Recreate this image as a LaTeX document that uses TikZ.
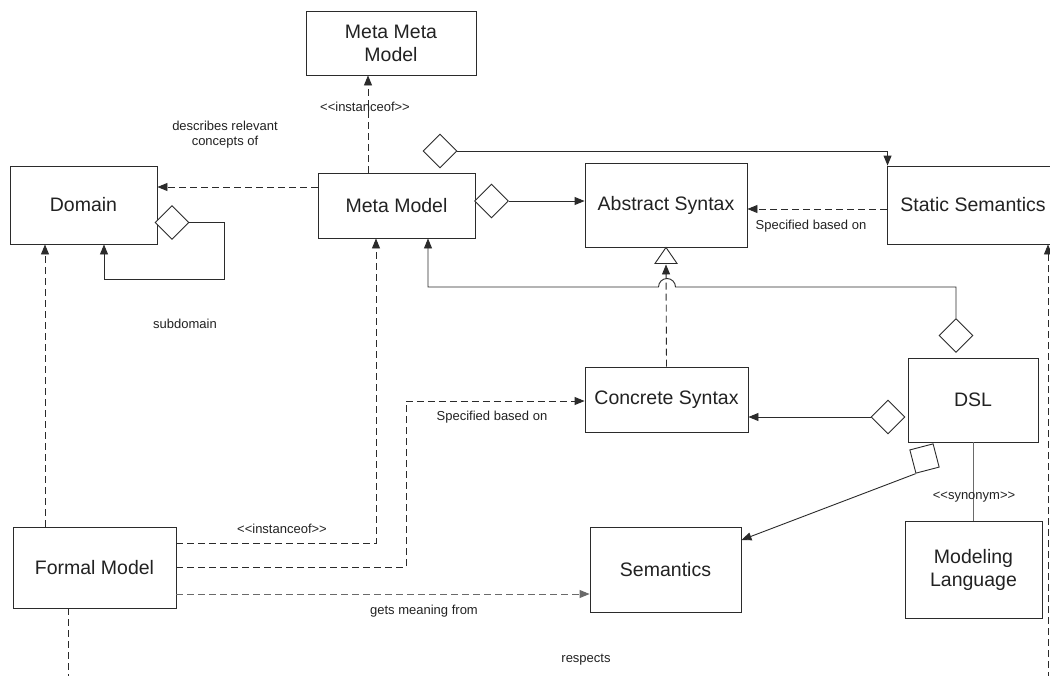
\documentclass[tikz,border=0pt]{standalone}
\usepackage{fontspec}
\setmainfont{Liberation Sans}
\usetikzlibrary{arrows.meta,shapes.geometric,calc}
\definecolor{linec}{HTML}{2B2B2B}
\definecolor{txt}{HTML}{222222}
\definecolor{greyline}{HTML}{6A6A6A}
% guillemet-free stereotype brackets
\def\stl{<\kern0pt<}
\def\str{>\kern0pt>}

\begin{document}
\begin{tikzpicture}[x=1pt,y=-1pt,
  box/.style={draw=linec, line width=0.9pt, inner sep=0pt, align=center,
    font=\fontsize{19.5}{23}\selectfont, text=txt},
  lbl/.style={font=\fontsize{13}{15}\selectfont, text=txt, align=center, inner sep=0pt},
  dia/.style={diamond, draw=linec, fill=white, line width=0.9pt,
    minimum width=34pt, minimum height=34pt, inner sep=0pt},
  conn/.style={draw=linec, line width=0.9pt},
  dsh/.style={conn, dash pattern=on 7pt off 4pt},
  arr/.style={-{Triangle[length=10pt,width=8pt]}},
]
\useasboundingbox (0,0) rectangle (1050,675);
\fill[white] (0,0) rectangle (1050,675);
\clip (0,0) rectangle (1050,675);

% classes
\node[box, minimum width=170pt, minimum height=64pt] (mmm) at (391,43) {Meta Meta\\Model};
\node[box, minimum width=147pt, minimum height=78pt] (dom) at (83.5,205) {Domain};
\node[box, minimum width=157pt, minimum height=65pt] (mm) at (396.5,205.5) {Meta Model};
\node[box, minimum width=162pt, minimum height=84pt] (as) at (666,205) {Abstract Syntax};
\node[box, minimum width=172pt, minimum height=78pt] (ss) at (973,205) {Static Semantics};
\node[box, minimum width=163pt, minimum height=65pt] (cs) at (666.5,399.5) {Concrete Syntax};
\node[box, minimum width=130pt, minimum height=84pt] (dsl) at (973,400) {DSL};
\node[box, minimum width=163pt, minimum height=81pt] (fm) at (94.5,567.5) {Formal Model};
\node[box, minimum width=151pt, minimum height=85pt] (sem) at (665.5,569.5) {Semantics};
\node[box, minimum width=137pt, minimum height=97pt] (ml) at (973.5,569.5) {Modeling\\Language};

% aggregation markers
\node[dia] (dd) at (172,222.5) {};
\node[dia] (td) at (440,151) {};
\node[dia] (md) at (491.5,201) {};
\node[dia] (dtop) at (956,335.5) {};
\node[dia] (dl) at (888,417) {};
\node[draw=linec, fill=white, line width=0.9pt, minimum size=24pt, inner sep=0pt,
  rotate=14.6] (sq) at (924.5,458.5) {};

% bend points
\coordinate (loopA) at (224,279);
\coordinate (loopB) at (104,279);
\coordinate (hop) at (667,287);
\coordinate (k1) at (376,543);
\coordinate (k2) at (406,401);
\coordinate (fmend) at (68,690);
\coordinate (ssend) at (1048,690);

% Meta Model relations
\draw[dsh,arr] ([xshift=-28.5pt]mm.north) -- ([xshift=-28.5pt]mm.north |- mmm.south);
\node[lbl] at (365,107) {\stl instanceof\str};
\draw[dsh,arr] ([yshift=18.5pt]mm.west) -- ([yshift=18.5pt]mm.west -| dom.east);
\node[lbl] at (225,135) {describes relevant\\concepts of};
\draw[conn,arr] (md.east) -- (md.east -| as.west);
\draw[conn,arr] (td.east) -| ([xshift=1pt]ss.north west);

% subdomain loop
\draw[conn,arr] (dd.east) -| (loopA) -- (loopB) -- (loopB |- dom.south);
\node[lbl] at (185,324) {subdomain};

% Static Semantics to Abstract Syntax
\draw[dsh,arr] ([yshift=-4pt]ss.west) -- ([yshift=-4pt]ss.west -| as.east);
\node[lbl] at (811,226) {Specified based on};

% DSL composition to Meta Model (hopping over the dashed line)
\draw[conn,arr] (dtop.north) |- ([xshift=8.5pt]hop)
  arc[start angle=0, end angle=180, radius=8.5pt]
  -| ([xshift=31.5pt]mm.south);

% Concrete Syntax specialises Abstract Syntax
\draw[dsh,arr] (cs.north) -- ([yshift=-17pt]as.south);
\draw[draw=linec, fill=white, line width=0.9pt]
  (as.south) -- ++(-11,16) -- ++(22,0) -- cycle;

% DSL parts
\draw[conn,arr] (dl.west) -- (dl.west -| cs.east);
\draw[conn,arr] (sq.south west) -- ([yshift=29.5pt]sem.east);
\draw[draw=greyline, line width=0.9pt] (dsl.south) -- (dsl.south |- ml.north);
\node[lbl] at (974,497) {\stl synonym\str};

% Formal Model relations
\draw[dsh,arr] ([xshift=-49.5pt]fm.north) -- ([xshift=-49.5pt]fm.north |- dom.south);
\draw[dsh,arr] (fm.east |- k1) -| (mm.south -| k1);
\node[lbl] at (282,529) {\stl instanceof\str};
\draw[dsh,arr] (fm.east) -| (k2) -- (cs.west |- k2);
\node[lbl] at (492,417) {Specified based on};
\draw[dsh,draw=greyline,arr] ([yshift=-26.5pt]fm.east) -- ([yshift=-26.5pt]fm.east -| sem.west);
\node[lbl] at (424,611) {gets meaning from};
\draw[dsh] ([xshift=-26.5pt]fm.south) -- ([xshift=-26.5pt]fm.south |- fmend);
\draw[dsh,arr] (ssend) -- (ssend |- ss.south);
\node[lbl] at (586,660) {respects};
\end{tikzpicture}
\end{document}
